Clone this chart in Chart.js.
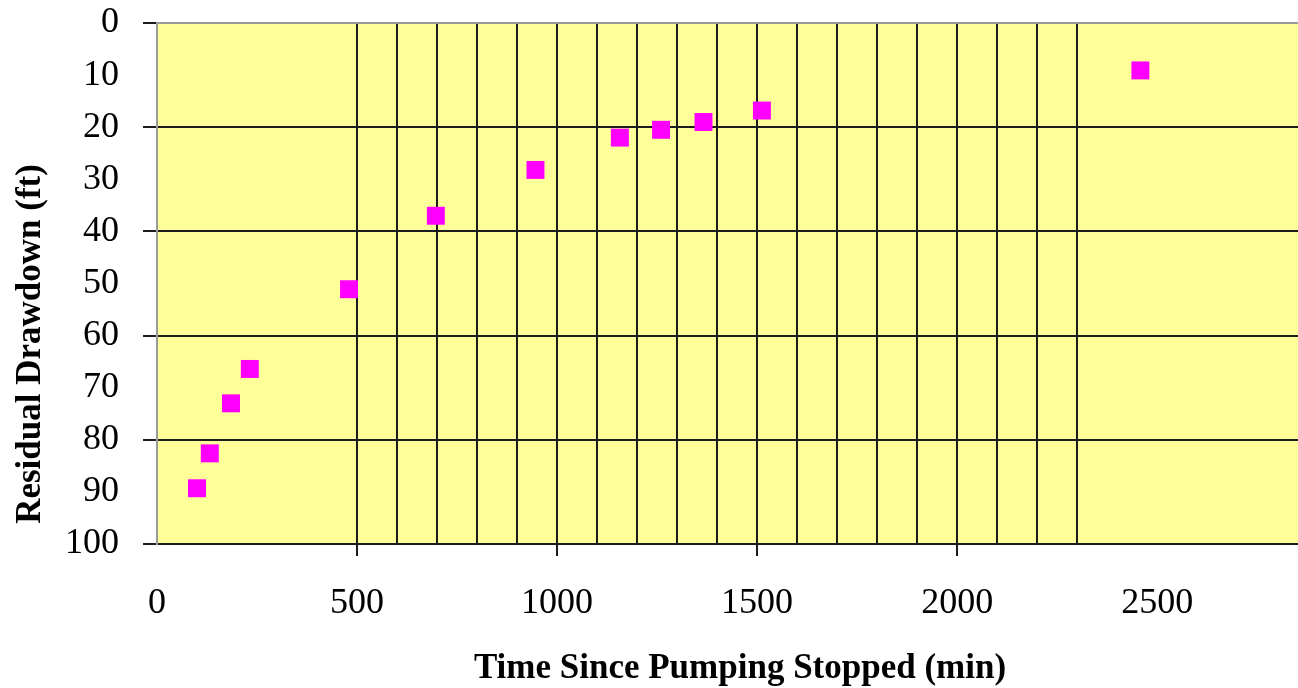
<!DOCTYPE html>
<html>
<head>
<meta charset="utf-8">
<script src="https://cdn.jsdelivr.net/npm/chart.js@4.4.1/dist/chart.umd.min.js"></script>
<style>
  html, body { margin: 0; padding: 0; background: #fff; overflow: hidden; }
  #wrap { position: absolute; left: 0; top: 0; width: 1298px; height: 688px; }
  #wrap canvas { display: block; }
</style>
</head>
<body>
<div id="wrap"><canvas id="drawdownChart"></canvas></div>
<script>
// time since pumping stopped (min)
const timeMin = [100, 132, 185, 232, 480, 697, 946, 1157, 1260, 1366, 1512, 2458];
// residual drawdown (ft)
const drawdownFt = [89.3, 82.6, 73.0, 66.4, 51.1, 37.0, 28.2, 22.0, 20.5, 19.0, 16.8, 9.1];
const xTickLabels = [0, 500, 1000, 1500, 2000, 2500];
const yTickLabels = [0, 10, 20, 30, 40, 50, 60, 70, 80, 90, 100];

const xTitle = 'Time Since Pumping Stopped (min)';
const yTitle = 'Residual Drawdown (ft)';

const LINE = '#1c1c1c';
const serif = 'Liberation Serif, Times New Roman, serif';

const plotBackground = {
    id: 'plotBackground',
    beforeDraw(chart) {
        const { ctx, chartArea } = chart;
        ctx.save();
        ctx.fillStyle = '#FFFF99';
        ctx.fillRect(chartArea.left, chartArea.top, chartArea.right - chartArea.left, chartArea.bottom - chartArea.top);
        ctx.restore();
    }
};

// axis titles sit off-centre in the original, so place them by hand
const axisTitles = {
    id: 'axisTitles',
    afterDraw(chart) {
        const ctx = chart.ctx;
        ctx.save();
        ctx.fillStyle = '#000';
        ctx.font = 'bold 35px ' + serif;
        ctx.textAlign = 'center';
        ctx.textBaseline = 'alphabetic';
        ctx.fillText(xTitle, 740, 678);

        ctx.translate(40, 344);
        ctx.rotate(-Math.PI / 2);
        ctx.fillText(yTitle, 0, 0);
        ctx.restore();
    }
};

new Chart(document.getElementById('drawdownChart'), {
    type: 'scatter',
    data: {
        datasets: [{
            data: timeMin.map((t, i) => ({ x: t, y: drawdownFt[i] })),
            pointStyle: 'rect',
            pointRadius: 12.7,
            pointHoverRadius: 12.7,
            backgroundColor: '#FF00FF',
            borderWidth: 0
        }]
    },
    options: {
        responsive: true,
        maintainAspectRatio: false,
        animation: false,
        events: [],
        layout: { autoPadding: false, padding: { top: 23, right: 0, left: 0, bottom: 0 } },
        plugins: {
            legend: { display: false },
            tooltip: { enabled: false }
        },
        scales: {
            x: {
                type: 'linear',
                min: 0,
                max: 2852,
                afterFit(scale) {
                    scale.height = 144;
                    scale.paddingLeft = 0;
                    scale.paddingRight = 0;
                },
                afterBuildTicks(scale) {
                    scale.ticks = [];
                    for (let v = 0; v <= 2800; v += 100) scale.ticks.push({ value: v });
                },
                border: { color: LINE, width: 2 },
                grid: {
                    lineWidth: 2,
                    tickLength: 12,
                    color: c => (c.tick && c.tick.value >= 500 && c.tick.value <= 2300) ? LINE : 'rgba(0,0,0,0)',
                    tickColor: c => (c.tick && c.tick.value >= 500 && c.tick.value <= 2000 && c.tick.value % 500 === 0) ? LINE : 'rgba(0,0,0,0)'
                },
                ticks: {
                    autoSkip: false,
                    maxRotation: 0,
                    padding: 26,
                    color: '#000',
                    font: { family: serif, size: 36 },
                    callback: v => xTickLabels.includes(v) ? String(v) : ''
                }
            },
            y: {
                type: 'linear',
                reverse: true,
                min: 0,
                max: 100,
                afterFit(scale) {
                    scale.width = 157;
                    scale.paddingTop = 0;
                    scale.paddingBottom = 0;
                },
                afterBuildTicks(scale) {
                    scale.ticks = yTickLabels.map(v => ({ value: v }));
                },
                border: { color: '#9a9a9a', width: 2 },
                grid: {
                    lineWidth: 2,
                    tickLength: 14,
                    color: c => {
                        const v = c.tick ? c.tick.value : -1;
                        if (v === 0) return '#9a9a9a';
                        return v % 20 === 0 ? LINE : 'rgba(0,0,0,0)';
                    },
                    tickColor: c => (c.tick && c.tick.value % 20 === 0) ? LINE : 'rgba(0,0,0,0)'
                },
                ticks: {
                    padding: 24,
                    color: '#000',
                    font: { family: serif, size: 36 }
                }
            }
        }
    },
    plugins: [plotBackground, axisTitles]
});
</script>
</body>
</html>
